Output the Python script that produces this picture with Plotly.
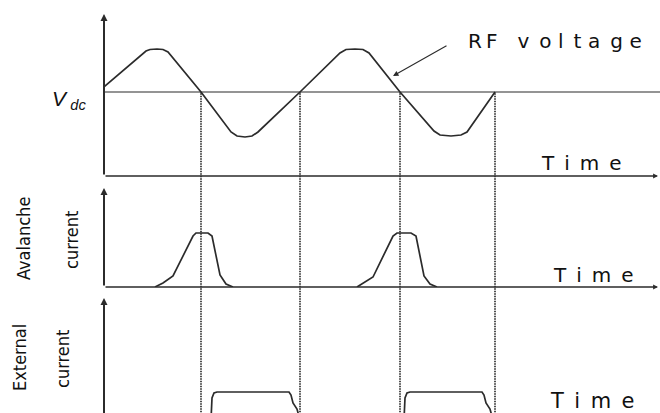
import plotly.graph_objects as go

# ---- data (time in arbitrary units) ----
# RF voltage relative to Vdc (normalised to peak amplitude)
rf_t = [0.0, 4.2, 4.6, 5.3, 5.9, 6.4, 9.7, 12.7, 13.3, 14.1, 14.8, 15.4, 19.6,
        23.6, 24.2, 25.1, 25.9, 26.5, 29.6, 33.0, 33.6, 34.7, 35.7, 36.3, 39.1]
rf_v = [0.12, 0.976, 1.012, 1.024, 1.012, 0.952, 0.0, -0.952, -1.048, -1.071, -1.048, -0.952, 0.0,
        0.929, 1.012, 1.024, 1.012, 0.929, 0.0, -0.929, -1.024, -1.048, -1.024, -0.952, 0.0]

# DC bias level
vdc_t = [0.0, 55.6]
vdc_v = [0.0, 0.0]

# zero crossings of the RF voltage
crossings = [9.7, 19.6, 29.6, 39.1]

# avalanche current pulses (normalised)
aval_t = [5.1, 5.9, 6.9, 8.9, 9.2, 10.4, 10.8, 11.6, 12.2, 12.9, None,
          25.3, 26.0, 26.9, 28.9, 29.3, 30.7, 31.2, 32.0, 32.6, 33.3]
aval_i = [0.0, 0.074, 0.204, 0.944, 1.0, 1.0, 0.944, 0.222, 0.056, 0.0, None,
          0.0, 0.074, 0.185, 0.944, 1.0, 1.0, 0.944, 0.204, 0.056, 0.0]

# external (induced) current pulses (normalised)
ext_t = [10.7, 10.8, 11.0, 11.3, 18.5, 18.7, 18.9, 19.3, 19.6, None,
         30.0, 30.1, 30.3, 30.6, 37.8, 38.0, 38.2, 38.6, 38.9]
ext_i = [0.0, 0.786, 0.964, 1.0, 1.0, 0.893, 0.607, 0.393, 0.0, None,
         0.0, 0.786, 0.964, 1.0, 1.0, 0.893, 0.607, 0.393, 0.0]

# ---- layout geometry ----
W, H = 660, 413
x_rng = [0, 55.6]
top_dom, top_rng = [(H - 176) / H, (H - 14) / H], [-2.0, 1.857]
mid_dom, mid_rng = [(H - 287) / H, (H - 188) / H], [0.0, 1.833]
bot_dom, bot_rng = [0.0, (H - 298) / H], [0.25, 4.357]

INK = "#2b2b2b"
LBL = "#111111"

fig = go.Figure()
fig.add_trace(go.Scatter(x=vdc_t, y=vdc_v, mode="lines", xaxis="x", yaxis="y",
                         line=dict(color=INK, width=1.1)))
fig.add_trace(go.Scatter(x=rf_t, y=rf_v, mode="lines", xaxis="x", yaxis="y",
                         line=dict(color=INK, width=1.7)))
fig.add_trace(go.Scatter(x=aval_t, y=aval_i, mode="lines", xaxis="x", yaxis="y2",
                         connectgaps=False, line=dict(color=INK, width=1.7)))
fig.add_trace(go.Scatter(x=ext_t, y=ext_i, mode="lines", xaxis="x", yaxis="y3",
                         connectgaps=False, line=dict(color=INK, width=1.7)))


def to_paper(v, dom, rng):
    return dom[0] + (v - rng[0]) / (rng[1] - rng[0]) * (dom[1] - dom[0])


# dotted guides from the Vdc crossings down through all panels
shapes = []
y_top = to_paper(0.0, top_dom, top_rng)
for c in crossings:
    shapes.append(dict(type="line", xref="x", yref="paper", x0=c, x1=c, y0=-0.01, y1=y_top,
                       line=dict(color="#222222", width=1.6, dash="1.5px,1px")))

ann = []


def axis_arrow(x0, y0, x1, y1, yref, width):
    ann.append(dict(x=x1, y=y1, ax=x0, ay=y0, xref="x", yref=yref, axref="x", ayref=yref,
                    text="", showarrow=True, arrowhead=2, arrowsize=0.7, arrowwidth=width,
                    arrowcolor=INK, standoff=0, startstandoff=0))


# axes with arrows
axis_arrow(0, top_rng[0], 0, top_rng[1], "y", 2)
axis_arrow(0, top_rng[0], 55.4, top_rng[0], "y", 1.4)
axis_arrow(0, mid_rng[0], 0, mid_rng[1], "y2", 2)
axis_arrow(0, mid_rng[0], 55.4, mid_rng[0], "y2", 1.4)
axis_arrow(0, 0.0, 0, bot_rng[1], "y3", 2)

# pointer to the RF voltage curve
ann.append(dict(x=28.9, y=0.381, ax=34.4, ay=1.119, xref="x", yref="y", axref="x", ayref="y",
                text="", showarrow=True, arrowhead=2, arrowsize=1.0, arrowwidth=1.1,
                arrowcolor=INK, standoff=0, startstandoff=0))

sans = "DejaVu Sans, Liberation Sans, sans-serif"
italic_sans = "Liberation Sans, Arial, sans-serif"
narrow = "Liberation Sans Narrow, DejaVu Sans Condensed, Liberation Sans, sans-serif"
tm = "T\u2002i\u2002m\u2002e"
rf_label = "R\u2009F\u2003v\u2002o\u2004l\u2002t\u2004a\u2002g\u2004e"


def label(text, x, y, xref, yref, font, **kw):
    d = dict(text=text, x=x, y=y, xref=xref, yref=yref, showarrow=False,
             xanchor="center", yanchor="middle", font=font)
    d.update(kw)
    ann.append(d)


label(rf_label, 45.1, 1.21, "x", "y", dict(family=sans, size=20, color=LBL))
label(tm, 47.7, -1.69, "x", "y", dict(family=sans, size=20, color=LBL))
label(tm, 48.9, 0.222, "x", "y2", dict(family=sans, size=20, color=LBL))
label(tm, 48.8, 0.68, "x", "y3", dict(family=sans, size=21, color=LBL))

# labels left of the axes, placed in figure fractions
label("<i>V</i>\u2009<sub><i>dc</i></sub>", 88 / W, (H - 100) / H, "paper", "paper",
      dict(family=italic_sans, size=21, color=LBL), xanchor="right")
nfont = dict(family=narrow, size=18, color=LBL)
label("Avalanche", 23 / W, (H - 239) / H, "paper", "paper", nfont, textangle=-90)
label("current", 71 / W, (H - 240) / H, "paper", "paper", nfont, textangle=-90)
label("External", 19 / W, (H - 358) / H, "paper", "paper", nfont, textangle=-90)
label("current", 62 / W, (H - 359) / H, "paper", "paper", nfont, textangle=-90)

hidden = dict(visible=False, showgrid=False, zeroline=False, fixedrange=True)
fig.update_layout(
    width=W, height=H,
    margin=dict(l=0, r=0, t=0, b=0),
    paper_bgcolor="white", plot_bgcolor="white",
    showlegend=False,
    xaxis=dict(domain=[104 / W, 1.0], range=x_rng, anchor="y", **hidden),
    yaxis=dict(domain=top_dom, range=top_rng, anchor="x", **hidden),
    yaxis2=dict(domain=mid_dom, range=mid_rng, anchor="x", **hidden),
    yaxis3=dict(domain=bot_dom, range=bot_rng, anchor="x", **hidden),
    shapes=shapes,
    annotations=ann,
)

fig.write_html("out.html")
